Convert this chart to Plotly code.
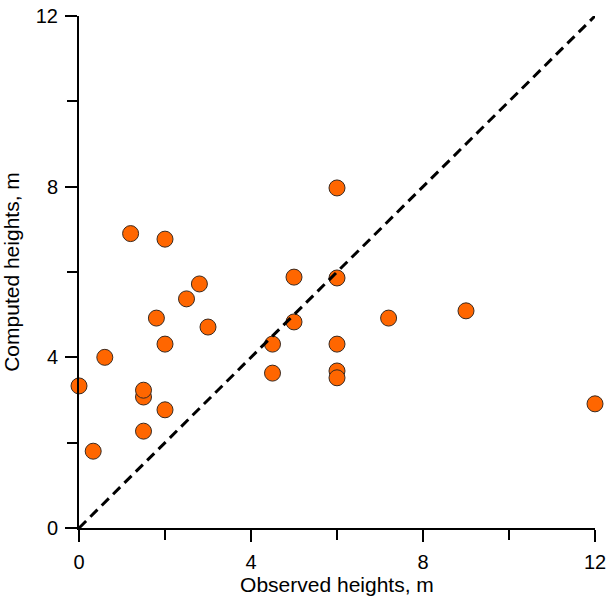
import plotly.graph_objects as go

observed = [0.0, 0.33, 0.6, 1.2, 1.5, 1.5, 1.5, 1.8, 2.0, 2.0, 2.0, 2.5, 2.8, 3.0,
            4.5, 4.5, 5.0, 5.0, 6.0, 6.0, 6.0, 6.0, 6.0, 7.2, 9.0, 12.0]
computed = [3.33, 1.8, 4.0, 6.9, 3.07, 3.23, 2.27, 4.92, 6.77, 4.31, 2.77, 5.37, 5.72, 4.71,
            4.31, 3.63, 5.88, 4.83, 7.97, 5.86, 4.31, 3.68, 3.52, 4.92, 5.09, 2.91]
line_x = [0, 12]
line_y = [0, 12]
tick_vals = [0, 4, 8, 12]
tick_text = ["0", "4", "8", "12"]

fig = go.Figure()
fig.add_trace(go.Scatter(
    x=observed, y=computed, mode="markers", cliponaxis=False,
    marker=dict(size=16, color="#FF6600", line=dict(color="#3a2a20", width=1)),
    showlegend=False,
))
fig.add_trace(go.Scatter(
    x=line_x, y=line_y, mode="lines", cliponaxis=False,
    line=dict(color="black", width=3, dash="10px,6px"),
    showlegend=False,
))

axis_common = dict(
    range=[0, 12], tickvals=tick_vals, ticktext=tick_text, automargin=False,
    ticklabeloverflow="allow",
    showgrid=False, zeroline=False, showline=True, linecolor="black", linewidth=2,
    ticks="outside", ticklen=12, tickwidth=2, tickcolor="black",
    minor=dict(dtick=2, tick0=0, ticks="outside", ticklen=10, tickwidth=2, tickcolor="black", showgrid=False),
    tickfont=dict(family="Liberation Sans, Arial", size=20, color="black"),
)

fig.update_layout(
    width=613, height=599,
    margin=dict(l=79, r=18, t=16, b=71),
    plot_bgcolor="white", paper_bgcolor="white",
    xaxis=dict(**axis_common, ticklabelstandoff=3,
               title=dict(text="Observed heights, m", standoff=3,
                          font=dict(family="Liberation Sans, Arial", size=21, color="black"))),
    yaxis=dict(**axis_common, ticklabelstandoff=3,
               title=dict(text="Computed heights, m", standoff=10,
                          font=dict(family="Liberation Sans, Arial", size=21, color="black"))),
)

# remove the browser's default 8px body margin so the figure fills the window
fig.write_html("out.html", config={"displayModeBar": False},
               post_script="document.body.style.margin='0';document.body.style.overflow='hidden';")
